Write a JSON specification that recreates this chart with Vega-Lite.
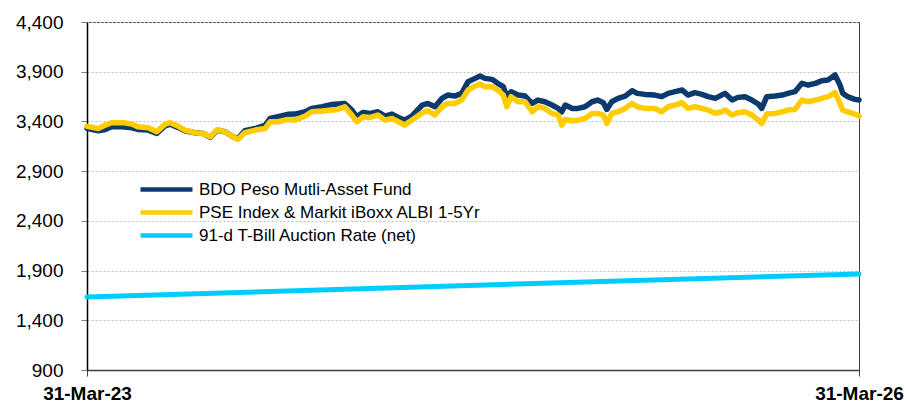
{
  "$schema": "https://vega.github.io/schema/vega-lite/v6.json",
  "width": 772,
  "height": 348,
  "autosize": {"type": "none"},
  "padding": {"left": 87, "top": 22, "right": 49, "bottom": 32},
  "background": "white",
  "config": {
    "font": "Liberation Sans",
    "view": {"stroke": "#404040", "strokeWidth": 1}
  },
  "datasets": {
    "funds": [
      {"d": "2023-03-31", "BDO": 3330, "PSE": 3350},
      {"d": "2023-04-16", "BDO": 3306, "PSE": 3329},
      {"d": "2023-04-26", "BDO": 3319, "PSE": 3363},
      {"d": "2023-05-05", "BDO": 3346, "PSE": 3387},
      {"d": "2023-05-20", "BDO": 3346, "PSE": 3390},
      {"d": "2023-06-03", "BDO": 3336, "PSE": 3373},
      {"d": "2023-06-11", "BDO": 3319, "PSE": 3346},
      {"d": "2023-06-26", "BDO": 3313, "PSE": 3336},
      {"d": "2023-07-08", "BDO": 3279, "PSE": 3296},
      {"d": "2023-07-20", "BDO": 3356, "PSE": 3373},
      {"d": "2023-07-27", "BDO": 3373, "PSE": 3387},
      {"d": "2023-08-07", "BDO": 3340, "PSE": 3353},
      {"d": "2023-08-17", "BDO": 3306, "PSE": 3313},
      {"d": "2023-08-31", "BDO": 3286, "PSE": 3286},
      {"d": "2023-09-12", "BDO": 3279, "PSE": 3279},
      {"d": "2023-09-22", "BDO": 3239, "PSE": 3245},
      {"d": "2023-10-02", "BDO": 3313, "PSE": 3319},
      {"d": "2023-10-13", "BDO": 3296, "PSE": 3296},
      {"d": "2023-10-23", "BDO": 3252, "PSE": 3252},
      {"d": "2023-10-31", "BDO": 3225, "PSE": 3219},
      {"d": "2023-11-10", "BDO": 3306, "PSE": 3286},
      {"d": "2023-11-25", "BDO": 3329, "PSE": 3313},
      {"d": "2023-12-09", "BDO": 3363, "PSE": 3329},
      {"d": "2023-12-16", "BDO": 3430, "PSE": 3397},
      {"d": "2023-12-27", "BDO": 3447, "PSE": 3397},
      {"d": "2024-01-10", "BDO": 3471, "PSE": 3420},
      {"d": "2024-01-20", "BDO": 3474, "PSE": 3413},
      {"d": "2024-02-04", "BDO": 3497, "PSE": 3454},
      {"d": "2024-02-13", "BDO": 3531, "PSE": 3497},
      {"d": "2024-02-28", "BDO": 3548, "PSE": 3504},
      {"d": "2024-03-13", "BDO": 3571, "PSE": 3514},
      {"d": "2024-03-21", "BDO": 3575, "PSE": 3521},
      {"d": "2024-03-31", "BDO": 3581, "PSE": 3548},
      {"d": "2024-04-10", "BDO": 3514, "PSE": 3464},
      {"d": "2024-04-17", "BDO": 3447, "PSE": 3397},
      {"d": "2024-04-26", "BDO": 3491, "PSE": 3447},
      {"d": "2024-05-06", "BDO": 3481, "PSE": 3440},
      {"d": "2024-05-17", "BDO": 3497, "PSE": 3464},
      {"d": "2024-05-27", "BDO": 3454, "PSE": 3413},
      {"d": "2024-06-06", "BDO": 3474, "PSE": 3430},
      {"d": "2024-06-15", "BDO": 3440, "PSE": 3397},
      {"d": "2024-06-24", "BDO": 3413, "PSE": 3363},
      {"d": "2024-07-04", "BDO": 3454, "PSE": 3413},
      {"d": "2024-07-19", "BDO": 3565, "PSE": 3487},
      {"d": "2024-07-27", "BDO": 3581, "PSE": 3508},
      {"d": "2024-08-06", "BDO": 3548, "PSE": 3464},
      {"d": "2024-08-16", "BDO": 3632, "PSE": 3548},
      {"d": "2024-08-24", "BDO": 3665, "PSE": 3581},
      {"d": "2024-09-03", "BDO": 3655, "PSE": 3581},
      {"d": "2024-09-13", "BDO": 3682, "PSE": 3615},
      {"d": "2024-09-22", "BDO": 3800, "PSE": 3716},
      {"d": "2024-10-02", "BDO": 3833, "PSE": 3756},
      {"d": "2024-10-09", "BDO": 3857, "PSE": 3776},
      {"d": "2024-10-16", "BDO": 3833, "PSE": 3749},
      {"d": "2024-10-26", "BDO": 3823, "PSE": 3749},
      {"d": "2024-11-03", "BDO": 3783, "PSE": 3716},
      {"d": "2024-11-11", "BDO": 3749, "PSE": 3665},
      {"d": "2024-11-16", "BDO": 3649, "PSE": 3548},
      {"d": "2024-11-22", "BDO": 3699, "PSE": 3649},
      {"d": "2024-12-02", "BDO": 3665, "PSE": 3598},
      {"d": "2024-12-12", "BDO": 3655, "PSE": 3598},
      {"d": "2024-12-22", "BDO": 3581, "PSE": 3497},
      {"d": "2024-12-30", "BDO": 3615, "PSE": 3548},
      {"d": "2025-01-09", "BDO": 3598, "PSE": 3531},
      {"d": "2025-01-19", "BDO": 3565, "PSE": 3481},
      {"d": "2025-01-28", "BDO": 3531, "PSE": 3464},
      {"d": "2025-02-02", "BDO": 3497, "PSE": 3363},
      {"d": "2025-02-07", "BDO": 3565, "PSE": 3420},
      {"d": "2025-02-17", "BDO": 3531, "PSE": 3407},
      {"d": "2025-02-25", "BDO": 3531, "PSE": 3413},
      {"d": "2025-03-07", "BDO": 3548, "PSE": 3430},
      {"d": "2025-03-17", "BDO": 3598, "PSE": 3481},
      {"d": "2025-03-25", "BDO": 3615, "PSE": 3481},
      {"d": "2025-04-02", "BDO": 3588, "PSE": 3464},
      {"d": "2025-04-07", "BDO": 3521, "PSE": 3380},
      {"d": "2025-04-14", "BDO": 3598, "PSE": 3481},
      {"d": "2025-04-23", "BDO": 3632, "PSE": 3497},
      {"d": "2025-05-03", "BDO": 3655, "PSE": 3531},
      {"d": "2025-05-13", "BDO": 3709, "PSE": 3581},
      {"d": "2025-05-20", "BDO": 3682, "PSE": 3548},
      {"d": "2025-05-31", "BDO": 3672, "PSE": 3531},
      {"d": "2025-06-14", "BDO": 3665, "PSE": 3531},
      {"d": "2025-06-24", "BDO": 3649, "PSE": 3497},
      {"d": "2025-07-03", "BDO": 3682, "PSE": 3548},
      {"d": "2025-07-13", "BDO": 3699, "PSE": 3565},
      {"d": "2025-07-23", "BDO": 3716, "PSE": 3588},
      {"d": "2025-07-31", "BDO": 3665, "PSE": 3531},
      {"d": "2025-08-10", "BDO": 3689, "PSE": 3548},
      {"d": "2025-08-20", "BDO": 3672, "PSE": 3531},
      {"d": "2025-08-29", "BDO": 3649, "PSE": 3514},
      {"d": "2025-09-08", "BDO": 3632, "PSE": 3481},
      {"d": "2025-09-17", "BDO": 3665, "PSE": 3497},
      {"d": "2025-09-22", "BDO": 3682, "PSE": 3514},
      {"d": "2025-10-02", "BDO": 3615, "PSE": 3464},
      {"d": "2025-10-10", "BDO": 3642, "PSE": 3487},
      {"d": "2025-10-20", "BDO": 3649, "PSE": 3497},
      {"d": "2025-10-30", "BDO": 3615, "PSE": 3464},
      {"d": "2025-11-08", "BDO": 3575, "PSE": 3413},
      {"d": "2025-11-13", "BDO": 3531, "PSE": 3380},
      {"d": "2025-11-20", "BDO": 3649, "PSE": 3474},
      {"d": "2025-12-02", "BDO": 3655, "PSE": 3481},
      {"d": "2025-12-12", "BDO": 3665, "PSE": 3497},
      {"d": "2025-12-20", "BDO": 3682, "PSE": 3514},
      {"d": "2025-12-30", "BDO": 3699, "PSE": 3521},
      {"d": "2026-01-09", "BDO": 3783, "PSE": 3615},
      {"d": "2026-01-18", "BDO": 3766, "PSE": 3598},
      {"d": "2026-01-28", "BDO": 3783, "PSE": 3615},
      {"d": "2026-02-06", "BDO": 3810, "PSE": 3632},
      {"d": "2026-02-15", "BDO": 3817, "PSE": 3649},
      {"d": "2026-02-25", "BDO": 3867, "PSE": 3689},
      {"d": "2026-03-04", "BDO": 3766, "PSE": 3581},
      {"d": "2026-03-08", "BDO": 3682, "PSE": 3514},
      {"d": "2026-03-15", "BDO": 3649, "PSE": 3497},
      {"d": "2026-03-25", "BDO": 3622, "PSE": 3474},
      {"d": "2026-03-31", "BDO": 3615, "PSE": 3454}
    ],
    "tbill": [
      {"d": "2023-03-31", "series": "TB", "value": 1635},
      {"d": "2024-03-31", "series": "TB", "value": 1712},
      {"d": "2025-03-31", "series": "TB", "value": 1790},
      {"d": "2026-03-31", "series": "TB", "value": 1866}
    ]
  },
  "encoding": {
    "x": {
      "field": "d",
      "type": "temporal",
      "scale": {"type": "utc", "domain": [{"year": 2023, "month": 3, "date": 31, "utc": true}, {"year": 2026, "month": 3, "date": 31, "utc": true}]},
      "axis": {
        "title": null,
        "grid": false,
        "values": [{"year": 2023, "month": 3, "date": 31, "utc": true}, {"year": 2026, "month": 3, "date": 31, "utc": true}],
        "labelExpr": "utcFormat(datum.value, '%d-%b-%y')",
        "labelFont": "Liberation Sans",
        "labelFontSize": 19,
        "labelFontWeight": "bold",
        "labelColor": "#000000",
        "labelPadding": 8,
        "labelOverlap": false,
        "labelFlush": false,
        "domainColor": "#404040",
        "domainWidth": 1.5,
        "tickColor": "#404040",
        "tickSize": 6,
        "tickWidth": 1
      }
    },
    "y": {
      "field": "value",
      "type": "quantitative",
      "scale": {"domain": [900, 4400], "nice": false, "zero": false},
      "axis": {
        "title": null,
        "values": [900, 1400, 1900, 2400, 2900, 3400, 3900, 4400],
        "format": ",.0f",
        "labelFont": "Liberation Sans",
        "labelFontSize": 19,
        "labelColor": "#000000",
        "labelPadding": 18,
        "domainColor": "#000000",
        "domainWidth": 1.5,
        "tickColor": "#808080",
        "tickSize": 6,
        "gridColor": "#BFBFBF",
        "gridDash": [2, 2],
        "gridWidth": 1
      }
    },
    "color": {
      "field": "series",
      "type": "nominal",
      "scale": {"domain": ["BDO", "PSE", "TB"], "range": ["#0B3A6E", "#FFCC00", "#00CCFF"]},
      "legend": {
        "title": null,
        "orient": "none",
        "legendX": 51,
        "legendY": 157,
        "padding": 0,
        "symbolType": "stroke",
        "symbolSize": 2704,
        "symbolStrokeWidth": 4.5,
        "clipHeight": 21,
        "rowPadding": 2,
        "labelOffset": 4,
        "labelFont": "Liberation Sans",
        "labelFontSize": 17,
        "labelColor": "#000000",
        "labelLimit": 400,
        "labelExpr": "datum.label == 'BDO' ? 'BDO Peso Mutli-Asset Fund' : datum.label == 'PSE' ? 'PSE Index & Markit iBoxx ALBI 1-5Yr' : '91-d T-Bill Auction Rate (net)'"
      }
    }
  },
  "layer": [
    {
      "data": {"name": "funds"},
      "transform": [{"fold": ["BDO", "PSE"], "as": ["series", "value"]}],
      "mark": {"type": "line", "strokeWidth": 5.5, "strokeCap": "round", "strokeJoin": "round"}
    },
    {
      "data": {"name": "tbill"},
      "mark": {"type": "line", "strokeWidth": 5, "strokeCap": "round", "strokeJoin": "round"}
    }
  ]
}
